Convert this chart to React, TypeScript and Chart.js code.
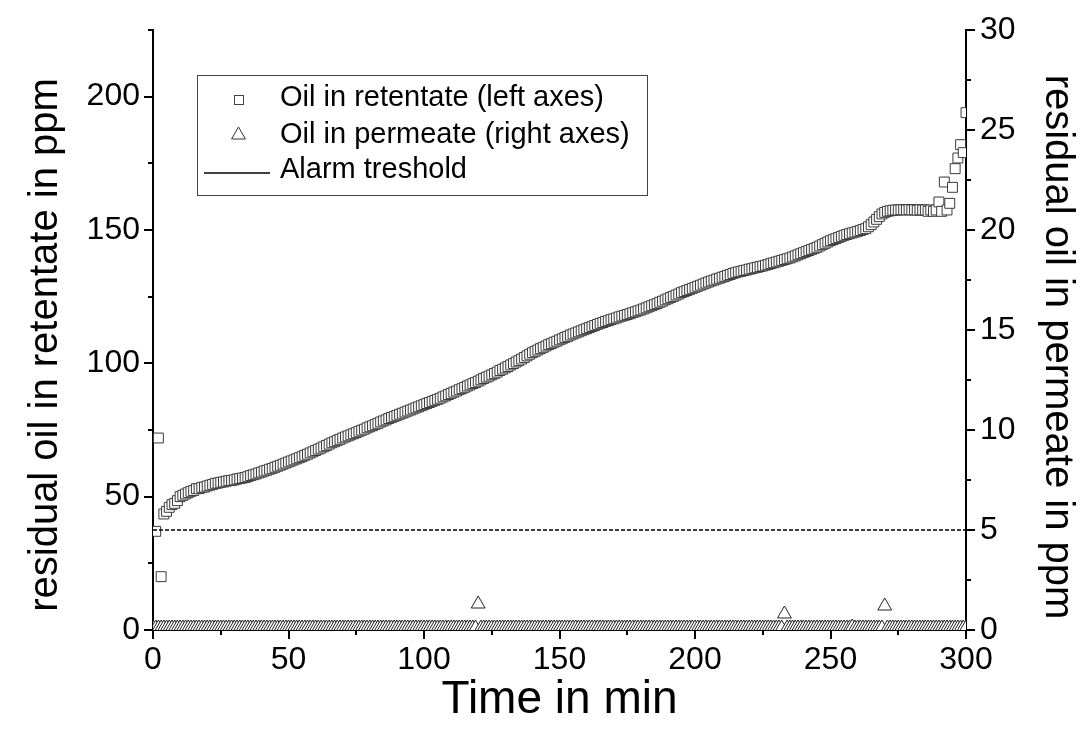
import React, { useEffect, useRef } from 'react';
import { Chart, registerables } from 'chart.js';

Chart.register(...registerables);

// ---------------- data ----------------
const minutes = [
  0, 1, 2, 3, 4, 5, 6, 7, 8, 9, 10, 11, 12, 13, 14, 15, 16, 17, 18, 19,
  20, 21, 22, 23, 24, 25, 26, 27, 28, 29, 30, 31, 32, 33, 34, 35, 36, 37, 38, 39,
  40, 41, 42, 43, 44, 45, 46, 47, 48, 49, 50, 51, 52, 53, 54, 55, 56, 57, 58, 59,
  60, 61, 62, 63, 64, 65, 66, 67, 68, 69, 70, 71, 72, 73, 74, 75, 76, 77, 78, 79,
  80, 81, 82, 83, 84, 85, 86, 87, 88, 89, 90, 91, 92, 93, 94, 95, 96, 97, 98, 99,
  100, 101, 102, 103, 104, 105, 106, 107, 108, 109, 110, 111, 112, 113, 114, 115, 116, 117, 118, 119,
  120, 121, 122, 123, 124, 125, 126, 127, 128, 129, 130, 131, 132, 133, 134, 135, 136, 137, 138, 139,
  140, 141, 142, 143, 144, 145, 146, 147, 148, 149, 150, 151, 152, 153, 154, 155, 156, 157, 158, 159,
  160, 161, 162, 163, 164, 165, 166, 167, 168, 169, 170, 171, 172, 173, 174, 175, 176, 177, 178, 179,
  180, 181, 182, 183, 184, 185, 186, 187, 188, 189, 190, 191, 192, 193, 194, 195, 196, 197, 198, 199,
  200, 201, 202, 203, 204, 205, 206, 207, 208, 209, 210, 211, 212, 213, 214, 215, 216, 217, 218, 219,
  220, 221, 222, 223, 224, 225, 226, 227, 228, 229, 230, 231, 232, 233, 234, 235, 236, 237, 238, 239,
  240, 241, 242, 243, 244, 245, 246, 247, 248, 249, 250, 251, 252, 253, 254, 255, 256, 257, 258, 259,
  260, 261, 262, 263, 264, 265, 266, 267, 268, 269, 270, 271, 272, 273, 274, 275, 276, 277, 278, 279,
  280, 281, 282, 283, 284, 285, 286, 287, 288, 289, 290, 291, 292, 293, 294, 295, 296, 297, 298, 299,
  300,
];

// Oil in retentate (left axis), ppm, one value per minute
const retentate = [
  null, 37, 72, 20, 43.5, 44.5, 46, 47, 47.5, 48.5,
  50, 50.5, 51, 51.5, 52, 52.3, 53, 53, 53.5, 53.6,
  54, 54.3, 54.6, 55, 55.1, 55.4, 55.5, 55.8, 56, 56.1,
  56.3, 56.6, 56.8, 57, 57.2, 57.5, 57.9, 58.2, 58.5, 58.9,
  59.2, 59.6, 59.9, 60.3, 60.6, 61, 61.4, 61.8, 62.2, 62.6,
  63, 63.4, 63.8, 64.2, 64.6, 65, 65.5, 65.9, 66.4, 66.8,
  67.3, 67.8, 68.2, 68.7, 69.2, 69.7, 70.2, 70.6, 71.1, 71.5,
  72, 72.4, 72.8, 73.2, 73.6, 74, 74.5, 74.9, 75.3, 75.8,
  76.2, 76.6, 77.1, 77.5, 78, 78.4, 78.8, 79.3, 79.7, 80.1,
  80.5, 80.9, 81.3, 81.7, 82.1, 82.5, 82.9, 83.3, 83.7, 84.1,
  84.5, 84.9, 85.3, 85.7, 86.1, 86.5, 86.9, 87.4, 87.8, 88.3,
  88.7, 89.2, 89.6, 90.1, 90.5, 91, 91.5, 91.9, 92.4, 92.8,
  93.3, 93.8, 94.3, 94.8, 95.2, 95.7, 96.2, 96.7, 97.3, 97.8,
  98.3, 98.8, 99.4, 99.9, 100.5, 101, 101.6, 102.2, 102.8, 103.4,
  104, 104.5, 105, 105.5, 106, 106.5, 107, 107.4, 107.9, 108.3,
  108.8, 109.2, 109.7, 110.1, 110.6, 111, 111.4, 111.8, 112.2, 112.6,
  113, 113.4, 113.8, 114.2, 114.6, 115, 115.3, 115.7, 116, 116.4,
  116.7, 117, 117.4, 117.7, 118, 118.3, 118.6, 119, 119.3, 119.7,
  120, 120.4, 120.8, 121.2, 121.6, 122, 122.4, 122.9, 123.3, 123.8,
  124.2, 124.7, 125.1, 125.6, 126, 126.5, 126.9, 127.3, 127.7, 128.1,
  128.5, 128.9, 129.3, 129.7, 130.1, 130.5, 130.9, 131.2, 131.6, 131.9,
  132.3, 132.6, 133, 133.3, 133.7, 134, 134.3, 134.5, 134.8, 135,
  135.3, 135.5, 135.8, 136, 136.3, 136.5, 136.8, 137.1, 137.4, 137.7,
  138, 138.3, 138.6, 138.9, 139.2, 139.5, 139.9, 140.3, 140.7, 141.1,
  141.5, 141.9, 142.3, 142.7, 143.1, 143.5, 144, 144.5, 145, 145.5,
  146, 146.4, 146.8, 147.2, 147.6, 148, 148.3, 148.6, 148.9, 149.2,
  149.5, 149.8, 150.2, 150.5, 151.2, 152, 153, 154, 155, 156,
  156.6, 157, 157.2, 157.4, 157.5, 157.5, 157.6, 157.6, 157.5, 157.7,
  157.5, 157.6, 157.4, 157.6, 157.5, 157.5, 157, 157.5, 157, 157.5,
  160.5, 157, 168, 157.5, 160, 166, 173, 177, 182, 179,
  194,
];

// Oil in permeate (right axis), ppm, one value per minute
const permeate = [
  0.1, 0.1, 0.1, 0.1, 0.1, 0.1, 0.1, 0.1, 0.1, 0.1, 0.1, 0.1, 0.1, 0.1, 0.1, 0.1, 0.1, 0.1, 0.1, 0.1,
  0.1, 0.1, 0.1, 0.1, 0.1, 0.1, 0.1, 0.1, 0.1, 0.1, 0.1, 0.1, 0.1, 0.1, 0.1, 0.1, 0.1, 0.1, 0.1, 0.1,
  0.1, 0.1, 0.1, 0.1, 0.1, 0.1, 0.1, 0.1, 0.1, 0.1, 0.1, 0.1, 0.1, 0.1, 0.1, 0.1, 0.1, 0.1, 0.1, 0.1,
  0.1, 0.1, 0.1, 0.1, 0.1, 0.1, 0.1, 0.1, 0.1, 0.1, 0.1, 0.1, 0.1, 0.1, 0.1, 0.1, 0.1, 0.1, 0.1, 0.1,
  0.1, 0.1, 0.1, 0.1, 0.1, 0.1, 0.1, 0.1, 0.1, 0.1, 0.1, 0.1, 0.1, 0.1, 0.1, 0.1, 0.1, 0.1, 0.1, 0.1,
  0.1, 0.1, 0.1, 0.1, 0.1, 0.1, 0.1, 0.1, 0.1, 0.1, 0.1, 0.1, 0.1, 0.1, 0.1, 0.1, 0.1, 0.1, 0.1, 0.1,
  1.3, 0.1, 0.1, 0.1, 0.1, 0.1, 0.1, 0.1, 0.1, 0.1, 0.1, 0.1, 0.1, 0.1, 0.1, 0.1, 0.1, 0.1, 0.1, 0.1,
  0.1, 0.1, 0.1, 0.1, 0.1, 0.1, 0.1, 0.1, 0.1, 0.1, 0.1, 0.1, 0.1, 0.1, 0.1, 0.1, 0.1, 0.1, 0.1, 0.1,
  0.1, 0.1, 0.1, 0.1, 0.1, 0.1, 0.1, 0.1, 0.1, 0.1, 0.1, 0.1, 0.1, 0.1, 0.1, 0.1, 0.1, 0.1, 0.1, 0.1,
  0.1, 0.1, 0.1, 0.1, 0.1, 0.1, 0.1, 0.1, 0.1, 0.1, 0.1, 0.1, 0.1, 0.1, 0.1, 0.1, 0.1, 0.1, 0.1, 0.1,
  0.1, 0.1, 0.1, 0.1, 0.1, 0.1, 0.1, 0.1, 0.1, 0.1, 0.1, 0.1, 0.1, 0.1, 0.1, 0.1, 0.1, 0.1, 0.1, 0.1,
  0.1, 0.1, 0.1, 0.1, 0.1, 0.1, 0.1, 0.1, 0.1, 0.1, 0.1, 0.1, 0.1, 0.8, 0.1, 0.1, 0.1, 0.1, 0.1, 0.1,
  0.1, 0.1, 0.1, 0.1, 0.1, 0.1, 0.1, 0.1, 0.1, 0.1, 0.1, 0.1, 0.1, 0.1, 0.1, 0.1, 0.1, 0.1, 0.15, 0.1,
  0.1, 0.1, 0.1, 0.1, 0.1, 0.1, 0.1, 0.1, 0.1, 0.1, 1.2, 0.1, 0.1, 0.1, 0.1, 0.1, 0.1, 0.1, 0.1, 0.1,
  0.1, 0.1, 0.1, 0.1, 0.1, 0.1, 0.1, 0.1, 0.1, 0.1, 0.1, 0.1, 0.1, 0.1, 0.1, 0.1, 0.1, 0.1, 0.1, 0.1,
  0.1,
];

const alarmTimes = [0, 300];
const alarmLevel = [5, 5]; // right axis, ppm

const xMajorTicks = [0, 50, 100, 150, 200, 250, 300];
const xMinorTicks = [25, 75, 125, 175, 225, 275];
const leftMajorTicks = [0, 50, 100, 150, 200];
const leftMinorTicks = [25, 75, 125, 175, 225];
const rightMajorTicks = [0, 5, 10, 15, 20, 25, 30];
const rightMinorTicks = [2.5, 7.5, 12.5, 17.5, 22.5, 27.5];

const legendLabels = ['Oil in retentate (left axes)', 'Oil in permeate (right axes)', 'Alarm treshold'];
const leftTitle = 'residual oil in retentate in ppm';
const rightTitle = 'residual oil in permeate in ppm';
const bottomTitle = 'Time in min';

const FONT = "'Liberation Sans', Arial, sans-serif";

const decorPlugin = {
  id: 'decor',
  afterDraw(chart: any) {
    const { ctx, chartArea, scales } = chart;
    const xs = scales.x, yl = scales.y, yr = scales.y2;
    ctx.save();
    ctx.strokeStyle = '#000';
    ctx.lineWidth = 2;
    ctx.beginPath();
    const b = chartArea.bottom, l = chartArea.left, r = chartArea.right;
    const tick = (vals: number[], len: number, fn: (v: number, len: number) => void) => vals.forEach((v) => fn(v, len));
    const xt = (v: number, len: number) => { const p = Math.round(xs.getPixelForValue(v)); ctx.moveTo(p, b); ctx.lineTo(p, b + len); };
    const lt = (v: number, len: number) => { const p = Math.round(yl.getPixelForValue(v)); ctx.moveTo(l, p); ctx.lineTo(l - len, p); };
    const rt = (v: number, len: number) => { const p = Math.round(yr.getPixelForValue(v)); ctx.moveTo(r, p); ctx.lineTo(r + len, p); };
    tick(xMajorTicks, 9, xt); tick(xMinorTicks, 5, xt);
    tick(leftMajorTicks, 9, lt); tick(leftMinorTicks, 5, lt);
    tick(rightMajorTicks, 9, rt); tick(rightMinorTicks, 5, rt);
    ctx.stroke();

    // axis titles
    ctx.fillStyle = '#000';
    ctx.textAlign = 'center';
    ctx.textBaseline = 'middle';
    ctx.font = `40px ${FONT}`;
    ctx.save();
    ctx.translate(46, 345);
    ctx.rotate(-Math.PI / 2);
    ctx.fillText(leftTitle, 0, 0);
    ctx.restore();
    ctx.save();
    ctx.translate(1057, 347);
    ctx.rotate(Math.PI / 2);
    ctx.fillText(rightTitle, 0, 0);
    ctx.restore();
    ctx.font = `46px ${FONT}`;
    ctx.fillText(bottomTitle, (l + r) / 2, 700);

    // legend
    const bx = 197, by = 75, bw = 450, bh = 120;
    ctx.fillStyle = '#fff';
    ctx.fillRect(bx, by, bw, bh);
    ctx.strokeStyle = '#444';
    ctx.lineWidth = 1;
    ctx.strokeRect(bx + 0.5, by + 0.5, bw, bh);

    // square symbol
    ctx.strokeStyle = '#444';
    ctx.fillStyle = '#fff';
    ctx.fillRect(234, 95, 9, 9);
    ctx.strokeRect(234.5, 95.5, 9, 9);
    // triangle symbol
    const tx = 238.5, ty = 135, tr = 8;
    ctx.beginPath();
    ctx.moveTo(tx, ty - tr);
    ctx.lineTo(tx + tr * 0.866, ty + tr * 0.5);
    ctx.lineTo(tx - tr * 0.866, ty + tr * 0.5);
    ctx.closePath();
    ctx.fill();
    ctx.strokeStyle = '#333';
    ctx.stroke();
    // line symbol
    ctx.strokeStyle = '#000';
    ctx.lineWidth = 1.5;
    ctx.beginPath();
    ctx.moveTo(204, 173);
    ctx.lineTo(270, 173);
    ctx.stroke();

    ctx.fillStyle = '#000';
    ctx.font = `29px ${FONT}`;
    ctx.textBaseline = 'middle';
    ctx.textAlign = 'left';
    ctx.fillText(legendLabels[0], 280, 98);
    ctx.fillText(legendLabels[1], 280, 135);
    ctx.fillText(legendLabels[2], 280, 170);
    ctx.restore();
  },
};

export default function App() {
  const ref = useRef<HTMLCanvasElement | null>(null);

  useEffect(() => {
    const canvas = ref.current;
    if (!canvas) return;

    const retData: { x: number; y: number }[] = [];
    minutes.forEach((t, i) => {
      const v = retentate[i];
      if (v !== null && v !== undefined) retData.push({ x: t, y: v as number });
    });
    const permData = minutes.map((t, i) => ({ x: t, y: permeate[i] }));
    const alarmData = alarmTimes.map((t, i) => ({ x: t, y: alarmLevel[i] }));

    const tickFont = { family: FONT, size: 32 };
    const grid = { display: true, drawOnChartArea: false, drawTicks: true, tickLength: 9, tickColor: 'rgba(0,0,0,0)' };
    const border = { display: true, color: '#000', width: 2 };

    const chart = new Chart(canvas, {
      type: 'scatter',
      data: {
        datasets: [
          {
            label: legendLabels[2],
            type: 'line',
            data: alarmData,
            yAxisID: 'y2',
            borderColor: '#000',
            borderWidth: 1.3,
            borderDash: [4, 2],
            pointRadius: 0,
            fill: false,
            clip: 0,
          } as any,
          {
            label: legendLabels[1],
            data: permData,
            yAxisID: 'y2',
            pointStyle: 'triangle',
            pointRadius: 8,
            backgroundColor: '#fff',
            borderColor: '#222',
            borderWidth: 1,
            showLine: false,
            clip: 0,
          },
          {
            label: legendLabels[0],
            data: retData,
            yAxisID: 'y',
            pointStyle: 'rect',
            pointRadius: 7,
            backgroundColor: '#fff',
            borderColor: '#3a3a3a',
            borderWidth: 1,
            showLine: false,
            clip: 0,
          },
        ],
      },
      options: {
        responsive: false,
        animation: false,
        devicePixelRatio: 1,
        layout: { padding: { top: 30, left: 0, right: 0, bottom: 0 } },
        plugins: { legend: { display: false }, tooltip: { enabled: false } },
        scales: {
          x: {
            type: 'linear',
            position: 'bottom',
            min: 0,
            max: 300,
            afterBuildTicks: (s: any) => { s.ticks = xMajorTicks.map((v) => ({ value: v })); },
            afterFit: (s: any) => { s.height = 112; },
            ticks: { font: tickFont, color: '#000', padding: 2, maxRotation: 0, autoSkip: false, callback: (v: any) => String(v) },
            grid,
            border,
            title: { display: false },
          },
          y: {
            type: 'linear',
            position: 'left',
            min: 0,
            max: 225,
            afterBuildTicks: (s: any) => { s.ticks = leftMajorTicks.map((v) => ({ value: v })); },
            afterFit: (s: any) => { s.width = 153; },
            ticks: { font: tickFont, color: '#000', padding: 4, callback: (v: any) => String(v) },
            grid,
            border,
            title: { display: false },
          },
          y2: {
            type: 'linear',
            position: 'right',
            min: 0,
            max: 30,
            afterBuildTicks: (s: any) => { s.ticks = rightMajorTicks.map((v) => ({ value: v })); },
            afterFit: (s: any) => { s.width = 123; },
            ticks: { font: tickFont, color: '#000', padding: 5, callback: (v: any) => String(v) },
            grid,
            border,
            title: { display: false },
          },
        },
      } as any,
      plugins: [decorPlugin],
    });

    return () => chart.destroy();
  }, []);

  return (
    <div style={{ position: 'absolute', left: 0, top: 0, width: 1089, height: 742, background: '#fff' }}>
      <canvas ref={ref} width={1089} height={742} style={{ width: 1089, height: 742, display: 'block' }} />
    </div>
  );
}
